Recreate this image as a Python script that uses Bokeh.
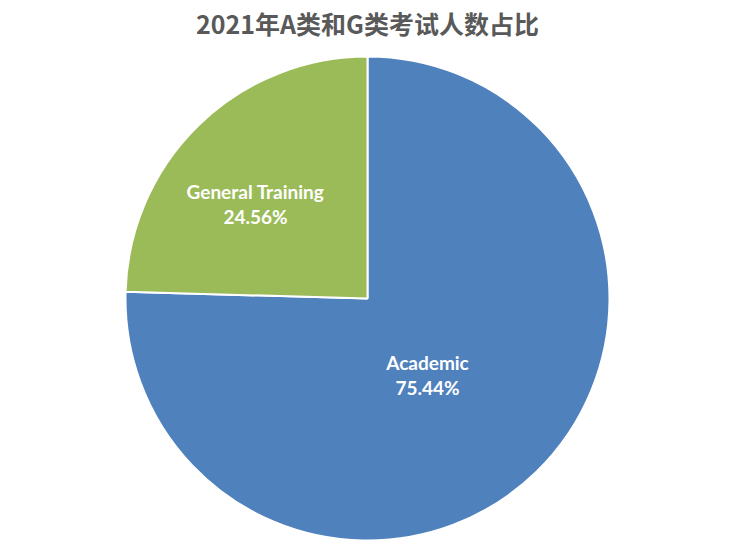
import math
from bokeh.plotting import figure
from bokeh.models import Range1d, ColumnDataSource
from bokeh.core.properties import value
from bokeh.embed import file_html
from bokeh.resources import INLINE

# ---- data ----
title_text = "2021年A类和G类考试人数占比"
categories = ["Academic", "General Training"]
shares = [75.44, 24.56]
colors = ["#4F81BD", "#9BBB59"]

# ---- layout (screenshot pixel coordinates, y measured downward) ----
W, H = 717, 545
PAGE_H = 553
cx, cy_page, radius = 367, 298, 242
label_pos_page = [(427, 374), (255, 203)]

def py(y_page):
    return PAGE_H - y_page

total = sum(shares)
starts, ends = [], []
a = math.pi / 2
for s in shares:
    sweep = 2 * math.pi * s / total
    # clockwise: end angle smaller than start
    starts.append(a - sweep)
    ends.append(a)
    a -= sweep

src = ColumnDataSource(dict(cat=categories, start=starts, end=ends, color=colors))

p = figure(width=W, height=H, output_backend="svg", toolbar_location=None,
           x_range=Range1d(0, W), y_range=Range1d(PAGE_H - H, PAGE_H),
           min_border=0)
p.axis.visible = False
p.grid.visible = False
p.outline_line_color = None
p.background_fill_color = "white"
p.border_fill_color = "white"

p.wedge(x=cx, y=py(cy_page), radius=radius, start_angle="start", end_angle="end",
        fill_color="color", line_color="white", line_width=2, source=src)

for (lx, ly), cat, s in zip(label_pos_page, categories, shares):
    p.text(x=[lx, lx], y=[py(ly - 12.5), py(ly + 12.5)], text=[cat, f"{s:.2f}%"],
           text_color="white", text_font=value("Lato"), text_font_style="bold",
           text_font_size="19px", text_align="center", text_baseline="middle")

p.text(x=[cx], y=[py(22)], text=[title_text], text_color="#595959",
       text_font=value("Noto Sans CJK SC"), text_font_style="bold",
       text_font_size="25px", text_align="center", text_baseline="middle")

open("out.html", "w").write(file_html(p, INLINE))
